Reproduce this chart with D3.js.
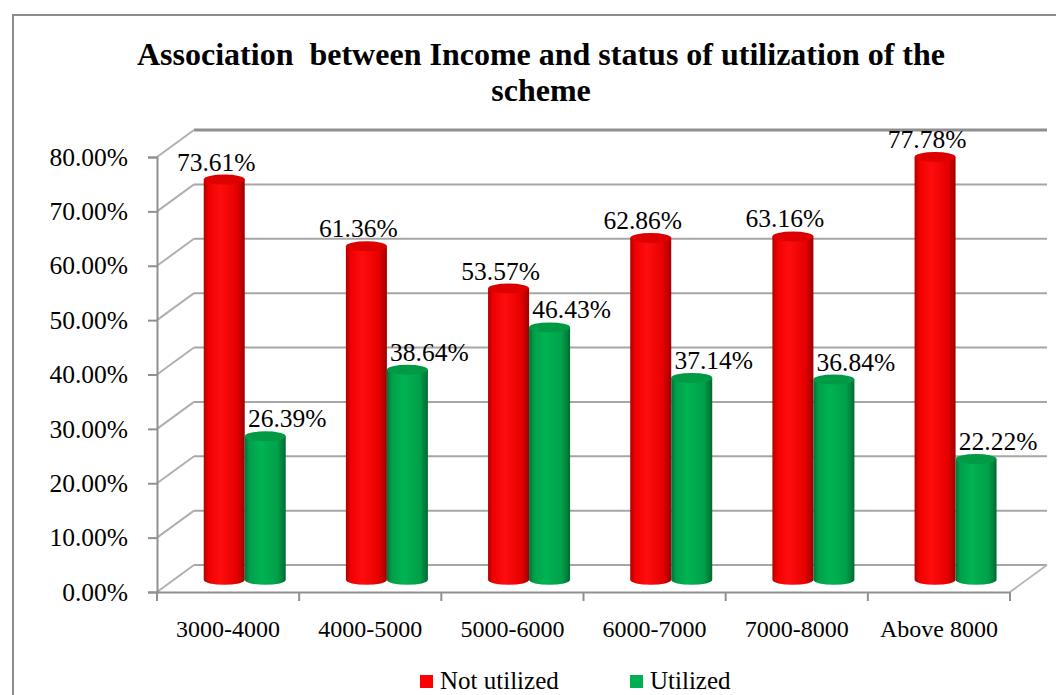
<!DOCTYPE html>
<html>
<head>
<meta charset="utf-8">
<script src="https://cdn.jsdelivr.net/npm/d3@7"></script>
<style>
  body { margin: 0; background: #fff; }
  svg { display: block; }
  svg text { font-family: "Liberation Serif", "Times New Roman", serif; }
</style>
</head>
<body>
<div id="chart"></div>
<script>
let w = 1056,
    h = 695;

// data
let categories = ["3000-4000", "4000-5000", "5000-6000", "6000-7000", "7000-8000", "Above 8000"];
let notUtilized = [0.7361, 0.6136, 0.5357, 0.6286, 0.6316, 0.7778];
let utilized = [0.2639, 0.3864, 0.4643, 0.3714, 0.3684, 0.2222];
let seriesNames = ["Not utilized", "Utilized"];
let yTicks = [0, 0.1, 0.2, 0.3, 0.4, 0.5, 0.6, 0.7, 0.8];

let serif = "'Liberation Serif', 'Times New Roman', serif";

// 3d look: back wall is shifted by this much
let depthX = 37,
    depthY = -27;

let x = d3.scaleBand()
          .domain(categories)
          .range([157, 1010])
          .paddingInner(0)
          .paddingOuter(0);

let y = d3.scaleLinear()
          .domain([0, 0.8])
          .range([592, 157]);

let svg = d3.select("#chart")
            .append("svg")
            .attr("width", w)
            .attr("height", h);

let defs = svg.append("defs");

function addGradient(id, stops) {
  let g = defs.append("linearGradient")
              .attr("id", id)
              .attr("x1", "0%").attr("x2", "100%")
              .attr("y1", "0%").attr("y2", "0%");
  stops.forEach(s => {
    g.append("stop").attr("offset", s[0]).attr("stop-color", s[1]);
  });
}

addGradient("redBody", [["0%", "#b00000"], ["12%", "#f00000"], ["40%", "#ff0d0d"], ["80%", "#e60000"], ["100%", "#a00000"]]);
addGradient("greenBody", [["0%", "#00703a"], ["12%", "#00a04a"], ["40%", "#00b352"], ["80%", "#00a04a"], ["100%", "#006a32"]]);

// outer frame
svg.append("rect")
   .attr("x", 13)
   .attr("y", 15)
   .attr("width", 1100)
   .attr("height", 750)
   .style("fill", "none")
   .style("stroke", "#8c8c8c")
   .style("stroke-width", 2);

// title
let title = svg.append("text")
               .attr("text-anchor", "middle")
               .style("font-family", serif)
               .style("font-weight", "bold")
               .style("font-size", "32px")
               .style("white-space", "pre");

title.append("tspan")
     .attr("x", 541)
     .attr("y", 65)
     .text("Association  between Income and status of utilization of the");

title.append("tspan")
     .attr("x", 541)
     .attr("y", 101)
     .text("scheme");

let grid = svg.append("g");
let x0 = x.range()[0],
    x1 = x.range()[1];

// back wall gridlines
grid.selectAll(".back-line")
    .data(yTicks)
    .enter()
    .append("line")
    .attr("x1", x0 + depthX)
    .attr("x2", x1 + depthX)
    .attr("y1", d => y(d) + depthY)
    .attr("y2", d => y(d) + depthY)
    .style("stroke", d => d == 0.8 ? "#8f8f8f" : "#a6a6a6")
    .style("stroke-width", d => d == 0.8 ? 3 : 2);

// side wall diagonals
grid.selectAll(".side-line")
    .data(yTicks)
    .enter()
    .append("line")
    .attr("x1", x0)
    .attr("x2", x0 + depthX)
    .attr("y1", d => y(d))
    .attr("y2", d => y(d) + depthY)
    .style("stroke", "#b0b0b0")
    .style("stroke-width", 2);

// floor right edge
grid.append("line")
    .attr("x1", x1)
    .attr("y1", y(0))
    .attr("x2", x1 + depthX)
    .attr("y2", y(0) + depthY)
    .style("stroke", "#b8b8b8")
    .style("stroke-width", 2);

// cylinders
let radius = 20.5,
    ry = 5,
    mid = 0.45;

let bars = [];
categories.forEach((c, i) => {
  bars.push({ cat: c, value: notUtilized[i], series: 0 });
  bars.push({ cat: c, value: utilized[i], series: 1 });
});

function cx(d) {
  return x(d.cat) + x.bandwidth() / 2 + depthX * mid + (d.series == 0 ? -radius : radius);
}

function baseY(d) {
  return y(0) + depthY * mid;
}

function topY(d) {
  return y(d.value) + depthY * mid;
}

let cyl = svg.append("g")
             .selectAll(".cyl")
             .data(bars)
             .enter()
             .append("g")
             .attr("class", "cyl");

cyl.append("path")
   .attr("d", d => {
     let l = cx(d) - radius, r = cx(d) + radius;
     return "M" + l + "," + topY(d) +
            "L" + l + "," + baseY(d) +
            "A" + radius + "," + ry + " 0 0 0 " + r + "," + baseY(d) +
            "L" + r + "," + topY(d) + "Z";
   })
   .style("fill", d => d.series == 0 ? "url(#redBody)" : "url(#greenBody)");

cyl.append("ellipse")
   .attr("cx", cx)
   .attr("cy", topY)
   .attr("rx", radius)
   .attr("ry", ry)
   .style("fill", d => d.series == 0 ? "#dd0000" : "#009a45");

// value labels
svg.append("g")
   .selectAll("text")
   .data(bars)
   .enter()
   .append("text")
   .attr("x", d => cx(d) + (d.series == 0 ? -8 : 22))
   .attr("y", d => topY(d) - ry - 4)
   .attr("text-anchor", "middle")
   .style("font-family", serif)
   .style("font-size", "25.5px")
   .text(d => d3.format(".2%")(d.value));

// y axis
let yAxis = svg.append("g")
               .attr("transform", "translate(" + x0 + ",0)")
               .call(d3.axisLeft(y)
                       .tickValues(yTicks)
                       .tickFormat(d3.format(".2%"))
                       .tickSize(9)
                       .tickPadding(20));

yAxis.select(".domain").style("stroke", "#909090").style("stroke-width", 2);
yAxis.selectAll(".tick line").style("stroke", "#909090").style("stroke-width", 2);
yAxis.selectAll("text")
     .style("font-size", "25.5px")
     .style("font-family", serif)
     .style("fill", "#000");

// x axis
let xAxis = svg.append("g")
               .attr("transform", "translate(0," + y(0) + ")")
               .call(d3.axisBottom(x).tickSize(0).tickPadding(28));

xAxis.select(".domain").style("stroke", "#909090").style("stroke-width", 2);
xAxis.selectAll("text")
     .style("font-size", "24px")
     .style("font-family", serif)
     .style("fill", "#000");

// category boundary ticks
let bounds = categories.map(c => x(c)).concat([x1]);
xAxis.selectAll(".bound")
     .data(bounds)
     .enter()
     .append("line")
     .attr("x1", d => d)
     .attr("x2", d => d)
     .attr("y1", 0)
     .attr("y2", 9)
     .style("stroke", "#909090")
     .style("stroke-width", 2);

// legend
let legendX = [420, 630];
let legendColors = ["#ff0000", "#00b050"];
let legend = svg.append("g")
                .selectAll("g")
                .data(seriesNames)
                .enter()
                .append("g");

legend.append("rect")
      .attr("x", (d, i) => legendX[i])
      .attr("y", 675)
      .attr("width", 13)
      .attr("height", 13)
      .style("fill", (d, i) => legendColors[i]);

legend.append("text")
      .attr("x", (d, i) => legendX[i] + 20)
      .attr("y", 689)
      .style("font-family", serif)
      .style("font-size", "25px")
      .text(d => d);
</script>
</body>
</html>
